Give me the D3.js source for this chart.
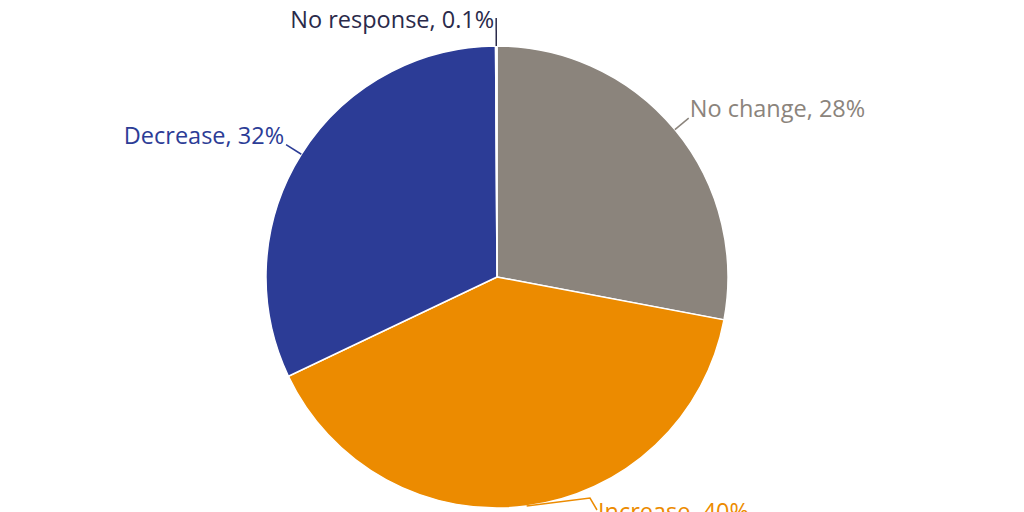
<!DOCTYPE html>
<html><head><meta charset="utf-8">
<script src="https://cdn.jsdelivr.net/npm/d3@7"></script>
<style>body{margin:0;background:#fff}</style>
</head><body>
<svg id="chart" width="1024" height="512"></svg>
<script>
var labels = ["No change", "Increase", "Decrease", "No response"];
var values = [28, 40, 32, 0.1];
var colors = ["#8b847c", "#ec8b00", "#2c3c96", "#2a2a4a"];

var cx = 497, cy = 277, r = 231;

var svg = d3.select("#chart");
var g = svg.append("g").attr("transform", "translate(" + cx + "," + cy + ")");

var pie = d3.pie().sort(null).value(function(d) { return d; });
var arcs = pie(values);
var arc = d3.arc().innerRadius(0).outerRadius(r);

g.selectAll("path")
  .data(arcs)
  .enter().append("path")
  .attr("d", arc)
  .attr("fill", function(d, i) { return colors[i]; })
  .attr("stroke", "#fff")
  .attr("stroke-width", 1.5);

function pt(a, rr) { return [rr * Math.sin(a), -rr * Math.cos(a)]; }

arcs.forEach(function(d, i) {
  var mid = (d.startAngle + d.endAngle) / 2;
  var p0 = pt(mid, r), p1 = pt(mid, r + (i == 3 ? 28 : 18));
  var pts = [p0, p1];
  if (i == 1) { pts = [p0, [93, 221], [100, 233]]; }
  var right = Math.sin(mid) > 0.01;
  var last = pts[pts.length - 1];
  g.append("polyline")
    .attr("points", pts.map(function(p) { return p.join(","); }).join(" "))
    .attr("fill", "none")
    .attr("stroke", colors[i])
    .attr("stroke-width", 1.5);
  var tx = right ? last[0] + 1 : last[0] - 2;
  var ty = i == 3 ? last[1] + 10 : (i == 1 ? last[1] + 10 : last[1] - 1);
  g.append("text")
    .attr("x", tx)
    .attr("y", ty)
    .attr("text-anchor", right ? "start" : "end")
    .attr("fill", colors[i])
    .style("font-family", "Open Sans, sans-serif")
    .style("font-size", "23.5px")
    .text(labels[i] + ", " + values[i] + "%");
});
</script>
</body></html>
